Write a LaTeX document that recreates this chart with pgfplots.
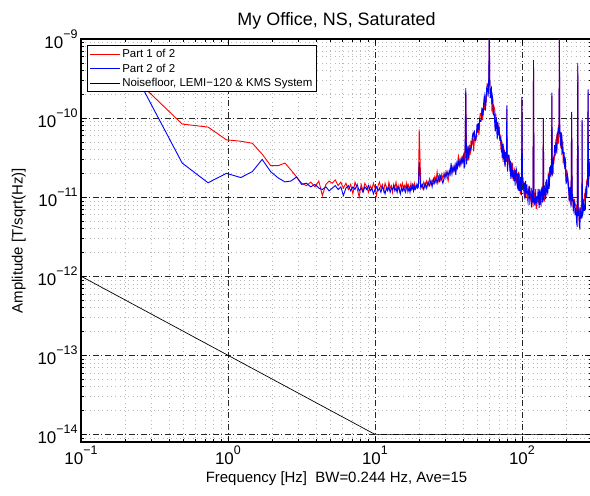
\documentclass[border=0pt]{standalone}
\usepackage{fontspec}
\setmainfont{Liberation Sans}
\usepackage{pgfplots}
\usepackage{pgfplotstable}
\pgfplotsset{compat=1.18}
\newcommand{\tl}[1]{10\raisebox{0.6em}{\fontsize{12.5}{12.5}\selectfont #1}}

\pgfplotstableread{
f r b
0.244 29e-11 31e-11
0.488 8.4e-11 2.7e-11
0.732 7.7e-11 1.52e-11
0.977 5.3e-11 2.0e-11
1.221 5.1e-11 1.77e-11
1.465 4.8e-11 2.1e-11
1.709 3.5e-11 3.0e-11
1.953 2.5e-11 2.1e-11
2.197 2.5e-11 1.75e-11
2.441 2.7e-11 1.56e-11
2.686 2.2e-11 1.6e-11
2.930 1.8e-11 1.8e-11
3.17 1.5e-11 1.45e-11
3.42 1.4e-11 1.5e-11
3.66 1.55e-11 1.35e-11
3.91 1.35e-11 1.45e-11
4.15 1.6e-11 1.3e-11
4.39 1.05e-11 1.25e-11
4.64 1.45e-11 1.35e-11
4.88 1.6e-11 1.2e-11
5.13 1.5e-11 1.3e-11
5.37 1.65e-11 1.4e-11
5.62 1.4e-11 1.25e-11
5.86 1.55e-11 1.35e-11
6.10 1.3e-11 1.05e-11
6.35 1.5e-11 1.3e-11
6.59 1.25e-11 1.4e-11
6.84 1.45e-11 1.2e-11
7.08 1.1e-11 1.35e-11
7.32 1.55e-11 1.25e-11
7.57 1.3e-11 1.45e-11
7.81 1.0e-11 1.2e-11
8.06 1.45e-11 1.3e-11
8.30 1.2e-11 1.15e-11
8.54 1.5e-11 1.35e-11
8.79 1.35e-11 1.25e-11
9.03 1.15e-11 1.4e-11
9.28 1.4e-11 1.2e-11
9.52 1.25e-11 1.3e-11
9.77 1.5e-11 1.1e-11
10.01 1.3e-11 1.25e-11
10.25 1.05e-11 1.35e-11
10.50 1.4e-11 1.2e-11
10.74 1.55e-11 1.3e-11
10.99 1.3e-11 1.15e-11
11.23 1.45e-11 1.35e-11
11.47 1.2e-11 1.25e-11
11.72 1.5e-11 1.1e-11
11.96 1.35e-11 1.3e-11
12.21 1.25e-11 1.2e-11
12.45 1.55e-11 1.35e-11
12.70 1.3e-11 1.15e-11
12.94 1.4e-11 1.3e-11
13.18 1.15e-11 1.25e-11
13.43 1.45e-11 1.4e-11
13.67 1.3e-11 1.2e-11
13.92 1.55e-11 1.3e-11
14.16 1.25e-11 1.15e-11
14.40 1.4e-11 1.35e-11
14.65 1.2e-11 1.25e-11
14.89 1.45e-11 1.1e-11
15.14 1.35e-11 1.3e-11
15.38 1.5e-11 1.2e-11
15.63 1.25e-11 1.35e-11
15.87 1.4e-11 1.25e-11
16.11 1.3e-11 1.15e-11
16.36 1.5e-11 1.3e-11
16.60 1.2e-11 1.4e-11
16.85 1.45e-11 1.2e-11
17.09 1.35e-11 1.3e-11
17.33 1.25e-11 1.15e-11
17.58 1.5e-11 1.35e-11
17.82 1.3e-11 1.25e-11
18.07 1.45e-11 1.4e-11
18.31 1.35e-11 1.2e-11
18.55 1.5e-11 1.35e-11
18.80 1.3e-11 1.25e-11
19.04 1.4e-11 1.3e-11
19.29 1.35e-11 1.45e-11
19.53 1.45e-11 1.3e-11
19.78 1.4e-11 1.35e-11
20.02 7.2e-11 2.8e-11
20.5 1.5e-11 1.3e-11
21.0 1.3e-11 1.45e-11
21.5 1.55e-11 1.25e-11
22.0 1.35e-11 1.5e-11
22.5 1.6e-11 1.3e-11
23.0 1.4e-11 1.55e-11
23.5 1.7e-11 1.4e-11
24.0 1.45e-11 1.6e-11
24.5 1.65e-11 1.35e-11
25.0 1.5e-11 1.7e-11
25.5 1.8e-11 1.5e-11
26.0 1.55e-11 1.75e-11
26.5 2.1e-11 1.5e-11
27.0 1.6e-11 1.8e-11
27.5 1.9e-11 1.6e-11
28.0 1.65e-11 1.85e-11
28.5 1.95e-11 1.65e-11
29.0 1.7e-11 1.5e-11
29.5 2.0e-11 1.7e-11
30.0 1.75e-11 2.0e-11
30.5 2.1e-11 1.8e-11
31.0 1.85e-11 2.1e-11
31.5 1.6e-11 1.85e-11
32.0 1.9e-11 2.15e-11
32.5 2.3e-11 1.95e-11
33.0 2.0e-11 2.7e-11
33.5 2.35e-11 2.0e-11
34.0 2.1e-11 2.4e-11
34.5 2.45e-11 2.15e-11
35.0 2.2e-11 2.5e-11
35.5 2.6e-11 1.9e-11
36.0 2.3e-11 2.65e-11
36.5 2.75e-11 2.35e-11
37.0 3.3e-11 2.8e-11
37.5 2.9e-11 2.5e-11
38.0 2.55e-11 2.95e-11
38.5 3.0e-11 2.6e-11
39.0 2.7e-11 3.1e-11
39.5 3.2e-11 2.8e-11
40.0 2.9e-11 3.3e-11
40.5 3.4e-11 2.3e-11
41.0 2.4e-11 3.0e-11
41.5 22e-11 24e-11
42.0 4.0e-11 2.6e-11
42.5 2.9e-11 3.5e-11
43.0 4.3e-11 4.5e-11
43.5 2.9e-11 3.1e-11
44.0 4.6e-11 4.1e-11
44.5 3.4e-11 4.1e-11
45.0 5.2e-11 3.9e-11
45.5 4.4e-11 4.6e-11
46.0 4.9e-11 5.8e-11
46.5 6.4e-11 6.4e-11
47.0 3.8e-11 6.0e-11
47.5 5.3e-11 7.0e-11
48.0 5.9e-11 5.2e-11
48.5 5.2e-11 5.2e-11
49.0 5.9e-11 5.9e-11
49.5 7.1e-11 8.4e-11
50.0 6.8e-11 7.2e-11
50.5 8.6e-11 8.6e-11
51.0 6.1e-11 7.1e-11
51.5 7.6e-11 9.7e-11
52.0 11.4e-11 9.1e-11
52.5 11.5e-11 9.1e-11
53.0 10.3e-11 9.6e-11
53.5 12.9e-11 13.6e-11
54.0 9.4e-11 10.8e-11
54.5 11.7e-11 10.9e-11
55.0 14.3e-11 16.0e-11
55.5 12.6e-11 18.9e-11
56.0 17.3e-11 16.3e-11
56.5 18.6e-11 12.4e-11
57.0 15.5e-11 15.5e-11
57.5 18.9e-11 23.6e-11
58.0 26.5e-11 25.2e-11
58.5 25.7e-11 21.6e-11
59.0 27.4e-11 18.7e-11
59.5 26.0e-11 32.1e-11
60.0 120e-11 120e-11
60.5 28.5e-11 28.5e-11
61.0 19.3e-11 17.9e-11
61.5 20.2e-11 22.7e-11
62.0 21.7e-11 23.9e-11
62.5 12.2e-11 15.3e-11
63.0 18.9e-11 18.9e-11
63.5 12.2e-11 17.0e-11
64.0 13.0e-11 10.8e-11
64.5 14.2e-11 12.9e-11
65.0 13.4e-11 10.8e-11
65.5 12.6e-11 7.8e-11
66.0 9.7e-11 6.8e-11
66.5 11.3e-11 9.2e-11
67.0 8.7e-11 10.2e-11
67.5 9.1e-11 6.7e-11
68.0 7.2e-11 5.4e-11
68.5 8.9e-11 8.9e-11
69.0 7.2e-11 7.6e-11
69.5 6.9e-11 6.1e-11
70.0 7.6e-11 7.6e-11
70.5 6.2e-11 5.5e-11
71.0 6.2e-11 5.2e-11
71.5 5.5e-11 5.2e-11
72.0 4.0e-11 6.0e-11
72.5 5.2e-11 3.9e-11
73.0 5.1e-11 4.0e-11
73.5 3.6e-11 3.1e-11
74.0 3.9e-11 4.7e-11
74.5 2.8e-11 4.7e-11
75.0 4.4e-11 3.0e-11
75.5 4.0e-11 4.0e-11
76.0 3.9e-11 3.5e-11
76.5 3.2e-11 2.5e-11
77.0 2.4e-11 3.7e-11
77.5 3.0e-11 2.8e-11
78.0 3.3e-11 3.8e-11
78.5 2.8e-11 3.3e-11
79.0 13e-11 14.5e-11
79.5 3.0e-11 2.5e-11
80.0 2.7e-11 2.1e-11
80.5 3.2e-11 3.4e-11
81.0 2.8e-11 3.4e-11
81.5 3.4e-11 3.4e-11
82.0 2.5e-11 3.1e-11
82.5 2.6e-11 2.8e-11
83.0 2.9e-11 2.1e-11
83.5 1.9e-11 2.9e-11
84.0 2.2e-11 1.7e-11
84.5 2.8e-11 2.1e-11
85.0 1.9e-11 2.2e-11
85.5 1.8e-11 2.7e-11
86.0 2.5e-11 1.8e-11
86.5 2.6e-11 2.2e-11
87.0 2.1e-11 1.9e-11
87.5 1.7e-11 2.0e-11
88.0 2.1e-11 1.7e-11
88.5 1.6e-11 1.6e-11
89.0 2.2e-11 1.6e-11
89.5 2.1e-11 2.2e-11
90.0 1.9e-11 1.4e-11
90.5 1.6e-11 2.1e-11
91.0 2.1e-11 2.1e-11
91.5 1.8e-11 2.3e-11
92.0 1.5e-11 2.2e-11
92.5 2.0e-11 1.5e-11
93.0 1.7e-11 1.4e-11
93.5 1.8e-11 1.6e-11
94.0 1.8e-11 2.0e-11
94.5 1.5e-11 1.2e-11
95.0 2.1e-11 2.0e-11
95.5 1.3e-11 1.7e-11
96.0 2.0e-11 1.6e-11
96.5 1.4e-11 1.2e-11
97.0 1.3e-11 1.4e-11
97.5 1.1e-11 1.3e-11
98.0 1.1e-11 1.8e-11
98.5 1.3e-11 1.2e-11
99.0 1.06e-11 1.3e-11
99.5 1.5e-11 1.05e-11
100 17e-11 18.5e-11
101 1.8e-11 1.5e-11
102 1.75e-11 1.5e-11
103 1.14e-11 1.31e-11
104 1.04e-11 1.52e-11
105 1.56e-11 0.94e-11
106 0.99e-11 1.6e-11
107 1.41e-11 1.12e-11
108 1.16e-11 1.45e-11
109 0.92e-11 1.13e-11
110 1.04e-11 1.10e-11
111 1.15e-11 1.22e-11
112 1.40e-11 0.80e-11
113 1.18e-11 1.37e-11
114 1.16e-11 1.09e-11
115 0.88e-11 1.07e-11
116 1.31e-11 0.75e-11
117 0.74e-11 1.05e-11
118 0.98e-11 1.22e-11
119 0.91e-11 0.85e-11
120 50e-11 54e-11
121 1.02e-11 0.84e-11
122 1.14e-11 0.9e-11
123 0.84e-11 0.78e-11
124 1.26e-11 1.14e-11
125 0.72e-11 0.84e-11
126 0.72e-11 1.02e-11
127 0.9e-11 0.9e-11
128 0.9e-11 1.02e-11
129 0.96e-11 1.26e-11
130 0.84e-11 0.96e-11
131 1.27e-11 0.73e-11
132 1.04e-11 1.22e-11
133 0.87e-11 0.80e-11
134 1.12e-11 0.87e-11
135 0.76e-11 1.26e-11
136 1.09e-11 1.03e-11
137 1.37e-11 1.31e-11
138 1.13e-11 0.87e-11
139 1.22e-11 0.88e-11
140 9.5e-11 10e-11
141 1.06e-11 0.92e-11
142 0.87e-11 1.38e-11
143 1.41e-11 1.19e-11
144 1.14e-11 1.30e-11
145 1.56e-11 0.94e-11
146 1.05e-11 1.13e-11
147 1.26e-11 1.68e-11
148 1.22e-11 1.39e-11
149 1.35e-11 1.17e-11
150 1.30e-11 1.12e-11
151 1.94e-11 1.36e-11
152 1.83e-11 1.93e-11
153 1.48e-11 1.27e-11
154 2.09e-11 1.43e-11
155 2.39e-11 2.39e-11
156 1.92e-11 1.8e-11
157 1.89e-11 2.52e-11
158 2.11e-11 2.24e-11
159 2.9e-11 1.93e-11
160 19e-11 21e-11
161 1.84e-11 1.99e-11
162 3.08e-11 2.11e-11
163 3.08e-11 2.05e-11
164 2.7e-11 3.06e-11
165 2.69e-11 3.26e-11
166 3.06e-11 3.47e-11
167 3.24e-11 4.54e-11
168 4.56e-11 4.1e-11
169 3.36e-11 3.84e-11
170 5.29e-11 4.03e-11
171 5.34e-11 4.81e-11
172 5.64e-11 3.95e-11
173 3.56e-11 4.16e-11
174 5.93e-11 6.55e-11
175 5.61e-11 5.28e-11
176 5.22e-11 6.96e-11
177 4.76e-11 7.69e-11
178 8.19e-11 6.63e-11
179 6.94e-11 6.53e-11
180 120e-11 120e-11
181 5.8e-11 8.69e-11
182 6.73e-11 5.94e-11
183 4.91e-11 4.54e-11
184 4.25e-11 5.31e-11
185 4.29e-11 6.6e-11
186 6.55e-11 4.06e-11
187 3.53e-11 6.17e-11
188 3.59e-11 4.97e-11
189 4.39e-11 3.61e-11
190 5.04e-11 4.32e-11
191 2.7e-11 3.6e-11
192 3.36e-11 3.15e-11
193 3.37e-11 2.97e-11
194 2.6e-11 3.72e-11
195 2.61e-11 2.61e-11
196 2.75e-11 2.27e-11
197 2.25e-11 2.85e-11
198 2.54e-11 2.96e-11
199 1.58e-11 2.24e-11
200 1.76e-11 1.51e-11
202 2.22e-11 1.55e-11
204 1.82e-11 1.92e-11
206 1.39e-11 1.74e-11
208 1.48e-11 1.25e-11
210 0.9e-11 0.9e-11
212 0.96e-11 1.35e-11
214 1.02e-11 1.14e-11
216 0.8e-11 0.74e-11
218 11e-11 12e-11
220 0.97e-11 0.89e-11
222 0.93e-11 0.98e-11
224 0.68e-11 0.67e-11
226 0.75e-11 0.89e-11
228 0.95e-11 0.86e-11
230 0.83e-11 0.59e-11
232 0.8e-11 0.73e-11
234 0.69e-11 0.63e-11
236 0.75e-11 0.47e-11
238 0.55e-11 0.42e-11
240 46e-11 50e-11
242 0.6e-11 0.58e-11
244 0.71e-11 0.67e-11
246 0.43e-11 0.46e-11
248 0.74e-11 0.39e-11
250 0.53e-11 0.68e-11
252 0.65e-11 0.63e-11
254 0.78e-11 0.54e-11
256 0.81e-11 0.73e-11
257 9e-11 9.5e-11
258 0.83e-11 0.58e-11
260 0.71e-11 0.61e-11
262 0.95e-11 0.69e-11
264 0.82e-11 0.92e-11
266 1.0e-11 0.67e-11
268 0.91e-11 0.79e-11
270 1.2e-11 0.68e-11
272 1.13e-11 1.2e-11
274 1.24e-11 1.38e-11
276 1.58e-11 0.98e-11
278 1.51e-11 1.51e-11
280 1.77e-11 1.49e-11
282 21e-11 23e-11
284 2.0e-11 1.33e-11
286 1.68e-11 2.16e-11
288 2.51e-11 1.85e-11
290 2.74e-11 2.88e-11
300 2.9e-11 3.0e-11
}\spec

\begin{document}
\begin{tikzpicture}
\begin{axis}[
  xmode=log, ymode=log,
  scale only axis,
  width=511bp, height=403bp,
  xmin=0.1, xmax=300, ymin=8e-15, ymax=1e-9,
  axis line style={line width=1.3bp},
  tick align=inside,
  tick style={black, line width=0.5bp},
  major tick length=5bp, minor tick length=3bp,
  xtick={0.1,1,10,100},
  ytick={1e-14,1e-13,1e-12,1e-11,1e-10,1e-9},
  minor xtick={0.2,0.3,0.4,0.5,0.6,0.7,0.8,0.9,2,3,4,5,6,7,8,9,20,30,40,50,60,70,80,90,200,300},
  minor ytick={2e-14,3e-14,4e-14,5e-14,6e-14,7e-14,8e-14,9e-14,2e-13,3e-13,4e-13,5e-13,6e-13,7e-13,8e-13,9e-13,2e-12,3e-12,4e-12,5e-12,6e-12,7e-12,8e-12,9e-12,2e-11,3e-11,4e-11,5e-11,6e-11,7e-11,8e-11,9e-11,2e-10,3e-10,4e-10,5e-10,6e-10,7e-10,8e-10,9e-10,9e-15},
  xticklabels={\tl{−1},\tl{0},\tl{1},\tl{2}},
  yticklabels={\tl{−14},\tl{−13},\tl{−12},\tl{−11},\tl{−10},\tl{−9}},
  ticklabel style={font=\fontsize{17}{17}\selectfont},
  grid=both,
  major grid style={black!85, line width=0.5bp, dash pattern=on 6bp off 2.5bp on 1bp off 2.5bp},
  minor grid style={gray!55, line width=0.5bp, dash pattern=on 0.8bp off 3.5bp},
  title={My Office, NS, Saturated},
  title style={font=\fontsize{18}{20}\selectfont},
  xlabel={Frequency [Hz]\ \ BW=0.244 Hz, Ave=15},
  ylabel={Amplitude [T/sqrt(Hz)]},
  label style={font=\fontsize{15}{17}\selectfont},
  ylabel style={yshift=5bp},
  legend style={at={(rel axis cs:0,1)}, anchor=north west, xshift=6bp, yshift=-6bp,
    font=\fontsize{11.5}{13}\selectfont, draw=black, line width=1bp, fill=white,
    inner sep=2bp, row sep=0.5bp, cells={anchor=west}},
  legend image code/.code={\draw[#1, line width=0.8bp] (0bp,0bp) -- (30bp,0bp);},
]
\addplot[red, line width=0.9bp] table[x=f, y=r]{\spec};
\addlegendentry{Part 1 of 2}
\addplot[blue, line width=0.9bp] table[x=f, y=b]{\spec};
\addlegendentry{Part 2 of 2}
\addplot[black, line width=0.7bp] coordinates {(0.1,1e-12) (10,1e-14) (300,1e-14)};
\addlegendentry{Noisefloor, LEMI−120 \& KMS System}
\end{axis}
\pgfresetboundingbox
\path[use as bounding box] (current axis.south west) ++(-81bp,-54bp) rectangle ++(590bp,496bp);
\end{tikzpicture}
\end{document}
